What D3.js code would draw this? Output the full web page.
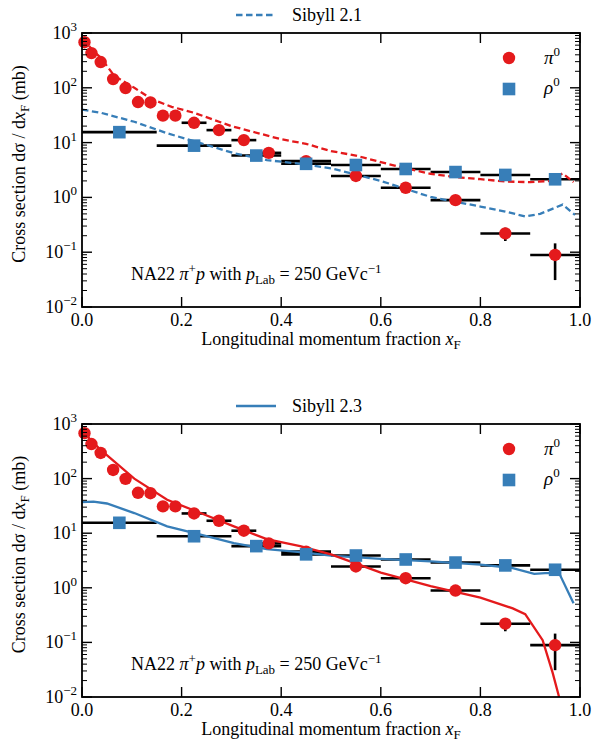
<!DOCTYPE html>
<html><head><meta charset="utf-8">
<script src="https://cdn.jsdelivr.net/npm/d3@7"></script>
<style>
html,body{margin:0;padding:0;background:#fff;}
</style></head>
<body>
<svg id="chart" width="592" height="745"></svg>
<script>
// ---------- data ----------
const xTicks = [0.0, 0.2, 0.4, 0.6, 0.8, 1.0];
const xTickLabels = ["0.0", "0.2", "0.4", "0.6", "0.8", "1.0"];
const yTickExps = [-2, -1, 0, 1, 2, 3];

// NA22 pi0 data
const pi0X    = [0.005, 0.019, 0.0375, 0.0625, 0.0875, 0.1125, 0.1375, 0.1625, 0.1875, 0.225, 0.275, 0.325, 0.375, 0.45, 0.55, 0.65, 0.75, 0.85, 0.95];
const pi0Y    = [680, 430, 295, 144, 99, 55, 54, 31, 31, 23, 16.9, 11.1, 6.5, 4.6, 2.46, 1.5, 0.89, 0.22, 0.089];
const pi0Xerr = [0.005, 0.006, 0.01, 0.01, 0.01, 0.01, 0.01, 0.01, 0.01, 0.025, 0.025, 0.025, 0.025, 0.05, 0.05, 0.05, 0.05, 0.05, 0.05];
const pi0YLo  = [680, 430, 295, 144, 99, 55, 54, 31, 31, 23, 16.9, 11.1, 6.5, 4.6, 2.46, 1.5, 0.89, 0.16, 0.031];
const pi0YHi  = [680, 430, 295, 144, 99, 55, 54, 31, 31, 23, 16.9, 11.1, 6.5, 4.6, 2.46, 1.5, 0.89, 0.28, 0.145];

// NA22 rho0 data
const rho0X    = [0.075, 0.225, 0.35, 0.45, 0.55, 0.65, 0.75, 0.85, 0.95];
const rho0Y    = [15.5, 8.8, 5.8, 4.1, 3.9, 3.3, 2.9, 2.57, 2.14];
const rho0Xerr = [0.075, 0.075, 0.05, 0.05, 0.05, 0.05, 0.05, 0.05, 0.05];

// Sibyll 2.1 (dashed)
const sib21PiX  = [0.002, 0.02, 0.038, 0.065, 0.105, 0.14, 0.18, 0.225, 0.3, 0.4, 0.45, 0.5, 0.55, 0.6, 0.65, 0.7, 0.75, 0.8, 0.85, 0.9, 0.94, 0.965, 0.987];
const sib21PiY  = [800, 500, 350, 165, 100, 62, 45, 35, 20, 11.5, 9.5, 7.0, 5.8, 4.4, 3.4, 2.7, 2.35, 2.15, 1.95, 1.9, 2.0, 2.75, 1.9];
const sib21RhoX = [0.0, 0.038, 0.105, 0.171, 0.238, 0.305, 0.371, 0.438, 0.5, 0.6, 0.7, 0.8, 0.85, 0.89, 0.92, 0.965, 0.99];
const sib21RhoY = [40, 35, 24, 14.8, 9.8, 6.4, 4.8, 4.1, 3.4, 2.0, 1.02, 0.68, 0.55, 0.45, 0.5, 0.74, 0.48];

// Sibyll 2.3 (solid)
const sib23PiX  = [0.0, 0.018, 0.037, 0.105, 0.171, 0.238, 0.305, 0.371, 0.438, 0.5, 0.6, 0.7, 0.8, 0.865, 0.89, 0.925, 0.945, 0.958, 0.97];
const sib23PiY  = [800, 500, 340, 100, 41, 23.4, 13.3, 7.8, 5.8, 4.1, 1.9, 1.07, 0.66, 0.42, 0.33, 0.11, 0.028, 0.01, 0.004];
const sib23RhoX = [0.0, 0.023, 0.05, 0.105, 0.171, 0.238, 0.305, 0.371, 0.438, 0.5, 0.6, 0.7, 0.8, 0.865, 0.908, 0.93, 0.958, 0.987];
const sib23RhoY = [37, 38, 35, 23.4, 13.3, 9.4, 6.6, 5.1, 4.5, 3.9, 3.4, 3.05, 2.66, 2.3, 1.8, 1.85, 1.86, 0.52];

const RED = "#e41a1c", BLUE = "#377eb8";
const FS = 18, SUB = 13;
const FAMILY = "Tinos, 'Liberation Serif', 'Times New Roman', FreeSerif, serif";

// ---------- drawing ----------
const svg = d3.select("#chart");
const L = 82, R = 580;
const x = d3.scaleLinear().domain([0, 1]).range([L, R]);

function txt(sel, x0, y0, size, anchor) {
  return sel.append("text").attr("x", x0).attr("y", y0).attr("font-size", size)
    .attr("font-family", FAMILY).style("font-family", FAMILY)
    .attr("text-anchor", anchor || "start").attr("fill", "#000");
}
function supText(sel, base, sup, opts) {
  const t = txt(sel, opts.x, opts.y, opts.size, opts.anchor);
  const b = t.append("tspan").text(base);
  if (opts.italic) b.attr("font-style", "italic");
  t.append("tspan").attr("font-size", SUB).attr("dy", -8).text(sup);
  return t;
}

function panel(top, bottom, id, piX, piY, rhoX, rhoY, dashed, legendLabel) {
  const g = svg.append("g");
  const y = d3.scaleLog().domain([0.01, 1000]).range([bottom, top]);

  g.append("clipPath").attr("id", "clip" + id).append("rect")
    .attr("x", L).attr("y", top).attr("width", R - L).attr("height", bottom - top);

  // error bars
  const eb = g.append("g").attr("stroke", "#000").attr("stroke-width", 2.6).attr("clip-path", `url(#clip${id})`);
  pi0X.forEach((v, i) => {
    eb.append("line").attr("x1", x(v - pi0Xerr[i])).attr("x2", x(v + pi0Xerr[i]))
      .attr("y1", y(pi0Y[i])).attr("y2", y(pi0Y[i]));
    if (pi0YHi[i] !== pi0YLo[i])
      eb.append("line").attr("x1", x(v)).attr("x2", x(v)).attr("y1", y(pi0YLo[i])).attr("y2", y(pi0YHi[i]));
  });
  rho0X.forEach((v, i) => {
    eb.append("line").attr("x1", x(v - rho0Xerr[i])).attr("x2", x(v + rho0Xerr[i]))
      .attr("y1", y(rho0Y[i])).attr("y2", y(rho0Y[i]));
  });

  // model lines
  const line = d3.line().x(d => x(d[0])).y(d => y(d[1]));
  const lg = g.append("g").attr("clip-path", `url(#clip${id})`).attr("fill", "none").attr("stroke-width", 2.3);
  lg.append("path").datum(rhoX.map((v, i) => [v, rhoY[i]])).attr("d", line).attr("stroke", BLUE)
    .attr("stroke-dasharray", dashed ? "6.5,3.5" : null);
  lg.append("path").datum(piX.map((v, i) => [v, piY[i]])).attr("d", line).attr("stroke", RED)
    .attr("stroke-dasharray", dashed ? "6.5,3.5" : null);

  // markers
  g.append("g").selectAll("circle").data(pi0X).join("circle")
    .attr("cx", d => x(d)).attr("cy", (d, i) => y(pi0Y[i])).attr("r", 6.2).attr("fill", RED);
  g.append("g").selectAll("rect").data(rho0X).join("rect")
    .attr("x", d => x(d) - 6.3).attr("y", (d, i) => y(rho0Y[i]) - 6.3)
    .attr("width", 12.6).attr("height", 12.6).attr("fill", BLUE);

  // ticks
  const minor = [];
  for (let e = -2; e < 3; e++) for (let m = 2; m <= 9; m++) minor.push(m * Math.pow(10, e));
  const tk = g.append("g").attr("stroke", "#000");
  xTicks.forEach(v => {
    tk.append("line").attr("x1", x(v)).attr("x2", x(v)).attr("y1", bottom).attr("y2", bottom - 10).attr("stroke-width", 1.4);
    tk.append("line").attr("x1", x(v)).attr("x2", x(v)).attr("y1", top).attr("y2", top + 10).attr("stroke-width", 1.4);
  });
  yTickExps.forEach(e => {
    const yy = y(Math.pow(10, e));
    tk.append("line").attr("x1", L).attr("x2", L + 10).attr("y1", yy).attr("y2", yy).attr("stroke-width", 1.4);
    tk.append("line").attr("x1", R).attr("x2", R - 10).attr("y1", yy).attr("y2", yy).attr("stroke-width", 1.4);
  });
  minor.forEach(v => {
    const yy = y(v);
    tk.append("line").attr("x1", L).attr("x2", L + 5).attr("y1", yy).attr("y2", yy).attr("stroke-width", 1);
    tk.append("line").attr("x1", R).attr("x2", R - 5).attr("y1", yy).attr("y2", yy).attr("stroke-width", 1);
  });

  // frame
  g.append("rect").attr("x", L).attr("y", top).attr("width", R - L).attr("height", bottom - top)
    .attr("fill", "none").attr("stroke", "#000").attr("stroke-width", 1.8);

  // tick labels
  xTicks.forEach((v, i) => {
    txt(g, x(v), bottom + 19, FS, "middle").text(xTickLabels[i]);
  });
  yTickExps.forEach(e => {
    supText(g, "10", e < 0 ? "\u2212" + Math.abs(e) : String(e),
      {x: 77, y: y(Math.pow(10, e)) + 6, size: FS, anchor: "end"});
  });

  // x label
  const xl = txt(g, (L + R) / 2, bottom + 38, FS, "middle");
  xl.append("tspan").text("Longitudinal momentum fraction ");
  xl.append("tspan").attr("font-style", "italic").text("x");
  xl.append("tspan").attr("font-size", SUB).attr("dy", 4).text("F");

  // y label
  const cy = (top + bottom) / 2 - 6;
  const yl = txt(g, 0, 0, FS, "middle").attr("transform", `translate(25,${cy}) rotate(-90)`);
  yl.append("tspan").text("Cross section d");
  yl.append("tspan").text("\u03c3 / d");
  yl.append("tspan").attr("font-style", "italic").text("x");
  yl.append("tspan").attr("font-size", SUB).attr("dy", 4).text("F");
  yl.append("tspan").attr("dy", -4).text(" (mb)");

  // annotation
  const an = txt(g, 131, bottom - 27, FS);
  an.append("tspan").text("NA22 ");
  an.append("tspan").attr("font-style", "italic").text("\u03c0");
  an.append("tspan").attr("font-size", SUB).attr("dy", -7).text("+");
  an.append("tspan").attr("font-style", "italic").attr("dy", 7).text("p");
  an.append("tspan").text(" with ");
  an.append("tspan").attr("font-style", "italic").text("p");
  an.append("tspan").attr("font-size", SUB).attr("dy", 4).text("Lab");
  an.append("tspan").attr("dy", -4).text(" = 250 GeVc");
  an.append("tspan").attr("font-size", SUB).attr("dy", -7).text("\u22121");

  // in-axes legend
  g.append("circle").attr("cx", 509).attr("cy", top + 25).attr("r", 6.2).attr("fill", RED);
  g.append("rect").attr("x", 509 - 6.3).attr("y", top + 56 - 6.3).attr("width", 12.6).attr("height", 12.6).attr("fill", BLUE);
  supText(g, "\u03c0", "0", {x: 544, y: top + 31, size: 19, italic: true});
  supText(g, "\u03c1", "0", {x: 544, y: top + 61, size: 19, italic: true});

  // top legend
  g.append("line").attr("x1", 236).attr("x2", 276).attr("y1", top - 18).attr("y2", top - 18)
    .attr("stroke", BLUE).attr("stroke-width", 2.3).attr("stroke-dasharray", dashed ? "6.5,3.5" : null);
  txt(g, 292, top - 12, FS).text(legendLabel);
}

panel(33, 307, "a", sib21PiX, sib21PiY, sib21RhoX, sib21RhoY, true, "Sibyll 2.1");
panel(424, 697, "b", sib23PiX, sib23PiY, sib23RhoX, sib23RhoY, false, "Sibyll 2.3");
</script>
</body></html>
